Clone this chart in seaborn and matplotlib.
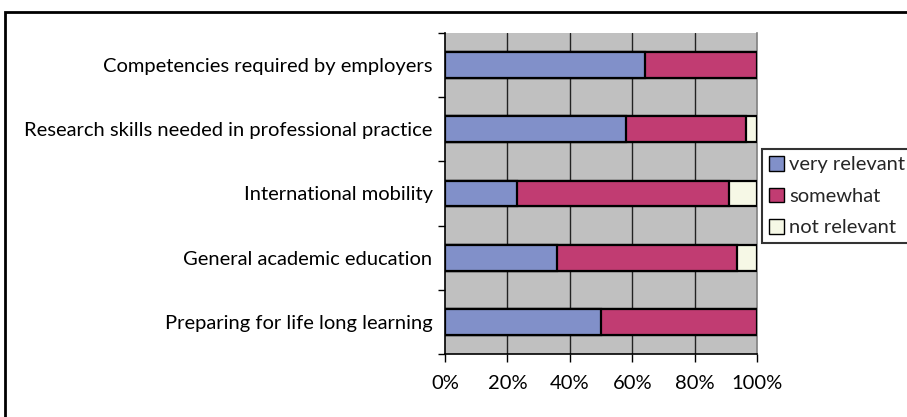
import matplotlib
matplotlib.use('Agg')
import matplotlib.pyplot as plt
import matplotlib.patches as mpatches
from matplotlib.ticker import FixedLocator, PercentFormatter
import seaborn as sns
import pandas as pd
import numpy as np

# Datos (porcentajes)
categorias = [
    'Competencies required by employers',
    'Research skills needed in professional practice',
    'International mobility',
    'General academic education',
    'Preparing for life long learning',
]
very_relevant = [64, 58, 23, 36, 50]
somewhat = [36, 38.5, 68, 57.5, 50]
not_relevant = [0, 3.5, 9, 6.5, 0]

series = ['very relevant', 'somewhat', 'not relevant']
colores = ['#8190C9', '#C13C72', '#F6F8E6']

sns.set_theme(style='white')
plt.rcParams['font.family'] = ['Lato', 'DejaVu Sans']

df = pd.DataFrame({
    'categoria': categorias,
    'very relevant': very_relevant,
    'somewhat': somewhat,
    'not relevant': not_relevant,
})
# acumulados para dibujar de atrás hacia adelante
df['cum_not'] = df['very relevant'] + df['somewhat'] + df['not relevant']
df['cum_some'] = df['very relevant'] + df['somewhat']
df['cum_very'] = df['very relevant']

fig = plt.figure(figsize=(9.07, 4.17), dpi=100)
ax = fig.add_axes([445 / 907, 1 - 354 / 417, 312 / 907, 321 / 417])
ax.set_facecolor('#C0C0C0')

for col, color in zip(['cum_not', 'cum_some', 'cum_very'], colores[::-1]):
    sns.barplot(data=df, y='categoria', x=col, orient='y', order=categorias,
                color=color, width=0.4, edgecolor='black', linewidth=1.6,
                saturation=1, ax=ax, zorder=3)

ax.set_xlim(0, 100)
ax.set_ylim(len(categorias) - 0.5, -0.5)
ax.xaxis.set_major_locator(FixedLocator([0, 20, 40, 60, 80, 100]))
ax.xaxis.set_major_formatter(PercentFormatter(decimals=0))
ax.set_xlabel('')
ax.set_ylabel('')

# rejilla vertical
for v in [20, 40, 60, 80]:
    ax.axvline(v, color='#222222', lw=1.0, zorder=1)

# marcas en los límites de categoría
ax.yaxis.set_minor_locator(FixedLocator(np.arange(-0.5, len(categorias), 1.0)))
ax.tick_params(axis='y', which='major', length=0, pad=9, labelsize=14.5, colors='black')
ax.tick_params(axis='y', which='minor', length=5, width=1, color='black', direction='out', left=True)
ax.tick_params(axis='x', which='major', length=6, width=1, color='black', direction='out',
               bottom=True, pad=9, labelsize=14.5, colors='black')

for lado in ['left', 'bottom']:
    ax.spines[lado].set_visible(True)
    ax.spines[lado].set_color('black')
    ax.spines[lado].set_linewidth(1.2)
ax.spines['top'].set_visible(False)
ax.spines['right'].set_color('#808080')
ax.spines['right'].set_linewidth(1.2)

# leyenda
handles = [mpatches.Patch(facecolor=c, edgecolor='black', linewidth=1, label=s)
           for s, c in zip(series, colores)]
leg = fig.legend(handles=handles, loc='upper left', bbox_to_anchor=(762 / 907, 1 - 149 / 417),
                 frameon=True, fancybox=False, fontsize=14.5, handlelength=0.75, handleheight=0.75,
                 handletextpad=0.25, borderpad=0.35, labelspacing=0.7, borderaxespad=0)
leg.get_frame().set_edgecolor('black')
leg.get_frame().set_linewidth(1.5)

# marco exterior
fig.patches.append(mpatches.Rectangle((5 / 907, -0.05), 1.0, 1 - 12 / 417 + 0.05,
                                      transform=fig.transFigure, fill=False,
                                      edgecolor='black', linewidth=2))

fig.savefig('out.png', dpi=100)
